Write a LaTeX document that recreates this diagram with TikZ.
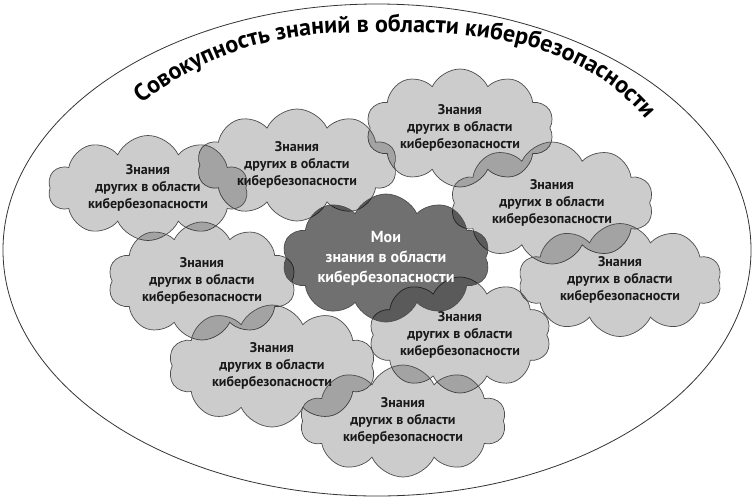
\documentclass[tikz,border=0pt]{standalone}
\usepackage{fontspec}
\setmainfont{PT Sans}
\usetikzlibrary{shapes.symbols,decorations.text}
\newcommand{\Others}{Знания\\других в области\\кибербезопасности}
\newcommand{\Mine}{Мои\\знания в области\\кибербезопасности}
\tikzset{
  knowledge/.style={cloud, cloud puffs=10, cloud puff arc=130, cloud ignores aspect,
    draw=black!70, line width=0.7pt, align=center, inner sep=0pt, text opacity=1},
  others/.style={knowledge, fill=black, fill opacity=0.2, text=black!90,
    font=\bfseries\fontsize{14}{17}\selectfont},
  mine/.style={knowledge, fill=black, fill opacity=0.56, text=white,
    font=\bfseries\fontsize{16}{20}\selectfont}
}

\begin{document}
\begin{tikzpicture}[x=1pt, y=-1pt]
    \useasboundingbox (0,0) rectangle (754,499);
    \draw[black!80, line width=0.8pt] (377,250) ellipse [x radius=374, y radius=246];
    \path[decorate, decoration={text along path, text align=center,
      text={|\bfseries\fontsize{24}{24}\selectfont|Совокупность знаний в области кибербезопасности}}]
      (112,128) .. controls (215,35) and (300,32) .. (392,32)
      .. controls (495,32) and (605,45) .. (668,150);
    \node[others, minimum width=188pt, minimum height=118pt] (other3) at (460,128) {\Others};
    \node[others, minimum width=200pt, minimum height=112pt] (other2) at (297,165) {\Others};
    \node[others, minimum width=200pt, minimum height=105pt] (other1) at (148,188) {\Others};
    \node[others, minimum width=203pt, minimum height=122pt] (other4) at (552,203) {\Others};
    \node[others, minimum width=203pt, minimum height=113pt] (other5) at (620,280) {\Others};
    \node[others, minimum width=188pt, minimum height=118pt] (other7) at (202,281) {\Others};
    \node[others, minimum width=182pt, minimum height=116pt] (other6) at (460,335) {\Others};
    \node[others, minimum width=207pt, minimum height=122pt] (other8) at (272,366) {\Others};
    \node[others, minimum width=206pt, minimum height=112pt] (other9) at (403,421) {\Others};
    \node[mine, minimum width=208pt, minimum height=128pt] (mine) at (386,258) {\Mine};
\end{tikzpicture}
\end{document}
